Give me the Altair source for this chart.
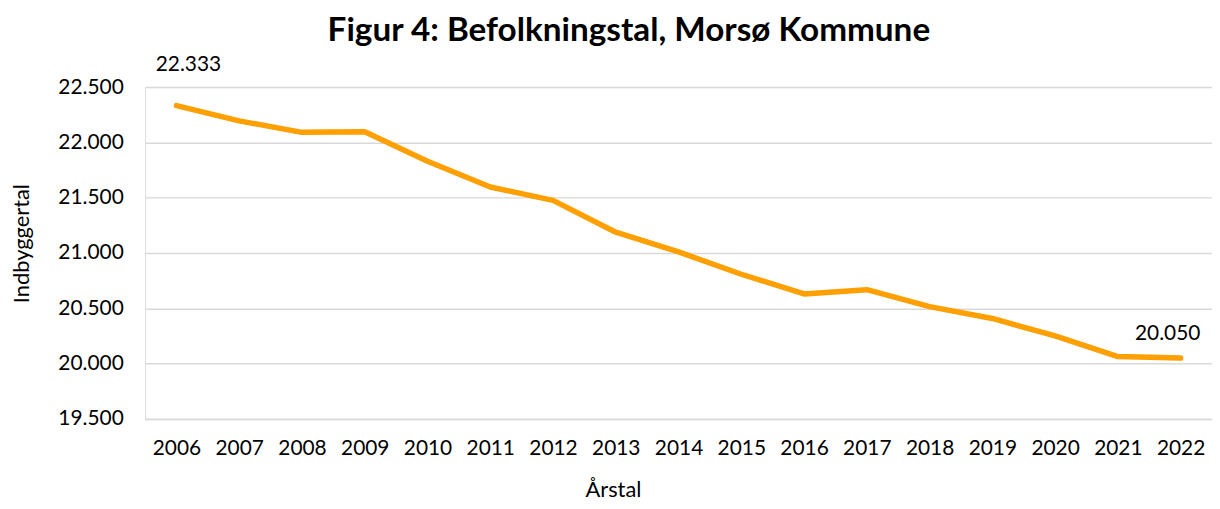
import altair as alt
import pandas as pd

years = [str(y) for y in range(2006, 2023)]
values = [22333, 22195, 22091, 22097, 21830, 21597, 21476, 21188, 21010, 20808,
          20630, 20668, 20515, 20408, 20250, 20064, 20050]

df = pd.DataFrame({"year": years, "value": values})

FONT = "Lato"
ORANGE = "#FF9F00"
GRID = "#D9D9D9"

x_enc = alt.X(
    "year:O",
    sort=years,
    axis=alt.Axis(
        title="Årstal",
        labelAngle=0,
        labelFont=FONT,
        labelFontSize=21,
        labelColor="#000000",
        labelPadding=19,
        ticks=False,
        domainColor=GRID,
        domainWidth=1.5,
        titleFont=FONT,
        titleFontSize=22,
        titleFontWeight="normal",
        titleColor="#000000",
        titleX=471,
        titleY=71,
        titleAlign="center",
        titleBaseline="middle",
    ),
)

y_enc = alt.Y(
    "value:Q",
    scale=alt.Scale(domain=[19500, 22500], nice=False, zero=False),
    axis=alt.Axis(
        title="Indbyggertal",
        values=[19500, 20000, 20500, 21000, 21500, 22000, 22500],
        labelExpr="replace(format(datum.value, ','), ',', '.')",
        labelFont=FONT,
        labelFontSize=21,
        labelColor="#000000",
        labelPadding=22,
        ticks=False,
        domain=False,
        grid=True,
        gridColor=GRID,
        gridWidth=1.5,
        titleFont=FONT,
        titleFontSize=22,
        titleFontWeight="normal",
        titleColor="#000000",
        titleAngle=270,
        titleX=-124,
        titleY=157,
        titleAlign="center",
        titleBaseline="middle",
    ),
)

base = alt.Chart(df)

line = base.mark_line(color=ORANGE, strokeWidth=5.5, strokeCap="round", strokeJoin="round").encode(
    x=x_enc, y=y_enc
)

lab_first = base.transform_filter(alt.datum.year == years[0]).transform_calculate(
    lbl="replace(format(datum.value, ','), ',', '.')"
).mark_text(font=FONT, fontSize=21, color="#000000", dx=12, dy=-41, baseline="middle").encode(
    x=alt.X("year:O", sort=years), y="value:Q", text="lbl:N"
)

lab_last = base.transform_filter(alt.datum.year == years[-1]).transform_calculate(
    lbl="replace(format(datum.value, ','), ',', '.')"
).mark_text(font=FONT, fontSize=21, color="#000000", dx=-13, dy=-24, baseline="middle").encode(
    x=alt.X("year:O", sort=years), y="value:Q", text="lbl:N"
)

chart = (
    alt.layer(line, lab_first, lab_last)
    .properties(
        width=1074,
        height=334,
        autosize=alt.AutoSizeParams(type="none"),
        padding={"left": 138, "top": 78, "right": 0, "bottom": 81},
        title=alt.TitleParams(
            text="Figur 4: Befolkningstal, Morsø Kommune",
            font=FONT,
            fontSize=33.5,
            fontWeight="bold",
            color="#000000",
            anchor="middle",
            frame="group",
            dx=-50,
            dy=30,
            offset=10,
            baseline="alphabetic",
        ),
    )
    .configure_view(stroke=None)
    .configure(background="white")
)

chart.save("out.html", embed_options={"renderer": "svg", "actions": False})
